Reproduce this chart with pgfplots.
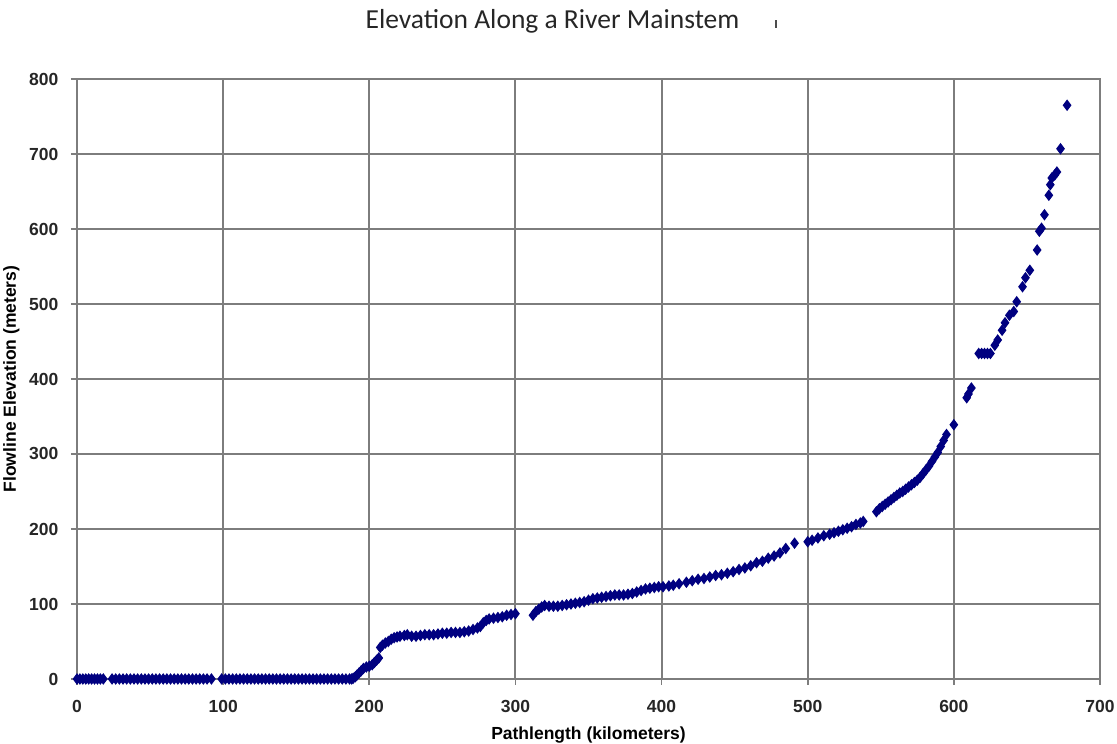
\documentclass[border=0pt]{standalone}
\usepackage{fontspec}
\setmainfont{Liberation Sans}
\newfontfamily\titlefont{Carlito}
\usepackage{pgfplots}
\pgfplotsset{compat=1.18}
\definecolor{navyblue}{RGB}{0,0,128}
\definecolor{gridgray}{RGB}{125,125,125}
\begin{document}
\begin{tikzpicture}
\begin{axis}[
  scale only axis,
  width=409.2pt, height=240pt,
  xmin=0, xmax=700, ymin=0, ymax=800,
  xtick={0,100,...,700}, ytick={0,100,...,800},
  grid=major,
  major grid style={gridgray, line width=0.85pt},
  axis line style={gridgray, line width=0.85pt},
  tick style={gridgray, line width=0.7pt},
  tick align=outside,
  major tick length=2.4pt,
  xtick pos=bottom, ytick pos=left,
  /pgf/number format/assume math mode=true,
  ticklabel style={font=\fontsize{7}{8}\selectfont\bfseries, text=black!85},
  xticklabel style={yshift=-2.5pt},
  yticklabel style={xshift=-1.5pt},
  xlabel={\fontsize{7}{8}\selectfont\bfseries Pathlength (kilometers)},
  ylabel={\fontsize{7}{8}\selectfont\bfseries Flowline Elevation (meters)},
  xlabel style={yshift=1pt},
  ylabel style={yshift=-3pt},
  clip=false,
]
\addplot[only marks, mark=diamond*, mark size=2pt, color=navyblue] coordinates {
(0,0)(2,0)(4,0)(6,0)(8,0)(10,0)(12,0)(14,0)(16,0)(18,0)
(24,0)(26.5,0)(29,0)(31.5,0)(34,0)(36.5,0)(39,0)(41.5,0)(44,0)(46.5,0)(49,0)(51.5,0)(54,0)(56.5,0)(59,0)(61.5,0)(64,0)(66.5,0)(69,0)(71.5,0)(74,0)(76.5,0)(79,0)(81.5,0)(84,0)(86.5,0)(89,0)(92,0)
(99,0)(101.5,0)(104,0)(106.5,0)(109,0)(111.5,0)(114,0)(116.5,0)(119,0)(121.5,0)(124,0)(126.5,0)(129,0)(131.5,0)(134,0)(136.5,0)(139,0)(141.5,0)(144,0)(146.5,0)(149,0)(151.5,0)(154,0)(156.5,0)(159,0)(161.5,0)(164,0)(166.5,0)(169,0)(171.5,0)(174,0)(176.5,0)(179,0)(181.5,0)(184,0)(186.5,0)(188,0)
(189,1)(190.5,3)(191.5,5)(193,8)(194.5,11)(196,14)(198,16)(200,17)(202,19)(203.5,22)(205,25)(206.5,28)
(207.5,42)(209,45)(211,48)(213,50)(215,53)(217,55)(219,56)(221,57)(224,58)(226,59)(229,57)(232,57)(235,58)(238,59)(241,59)(244,59)(247,60)(250,61)(253,61)(256,62)(259,62)(262,62)(265,63)(268,64)(271,66)(274,68)(276,70)(278,75)(280,78)(282,80)(285,81)(288,82)(291,83)(294,85)(297,86)(300,87)
(312,85)(314,90)(316,93)(318,96)(320,98)(323,97)(326,97)(329,97)(332,98)(335,99)(338,100)(341,101)(344,102)(347,103)(350,105)(353,107)(356,108)(359,109)(362,110)(365,111)(368,112)(371,112)(374,112)(377,113)(380,114)(383,116)(386,118)(389,120)(392,121)(395,122)(398,123)(401,123)(405,124)(408,125)
(412,127)(417,129)(421,131)(425,133)(429,134)(433,136)(437,138)(441,139)(445,141)(449,143)(453,146)(457,148)(461,151)(465,155)(469,157)(473,161)(477,164)(481,168)(485,174)(491,181)
(500,183)(503,185)(507,188)(511,191)(515,193)(518,195)(521,197)(524,199)(527,201)(530,203)(533,206)(536,208)(538,210)
(547,223)(549,227)(551,230)(553,233)(555,236)(557,239)(559,242)(561,245)(563,248)(565,250)(567,253)(569,256)(571,259)(573,262)(575,265)(577,269)(579,274)(581,279)(583,284)(585,290)(587,296)(589,302)(591,310)(593,318)(595,326)
(600,339)(608.8,375)(610,380)(612,388)
(617,434)(619,434)(621,434)(623,434)(625,434)
(628,445)(630,452)(633,465)(635,475)(638,485)(641,490)(643,503)(647,523)(649,535)(652,545)(657,572)(658.5,597)(660,601)(662,619)(665,645)(666,659)(667,668)(669,672)(670.5,676)(673,707)(677.5,765)
};
\coordinate (SW) at (rel axis cs:0,0);
\coordinate (NE) at (rel axis cs:1,1);
\coordinate (TOP) at (rel axis cs:0.5,1);
\end{axis}
\node[font=\titlefont\fontsize{11}{13}\selectfont, text=black!85, anchor=base] at ([xshift=-14.4pt, yshift=20pt]TOP) {Elevation Along a River Mainstem};
\fill[black!70] ([xshift=-129.9pt, yshift=20.4pt]NE) rectangle ++(0.7pt,3.2pt);
\pgfresetboundingbox
\path ([xshift=-30.8pt, yshift=-26pt]SW) rectangle ([xshift=6.8pt, yshift=31.6pt]NE);
\end{tikzpicture}
\end{document}
